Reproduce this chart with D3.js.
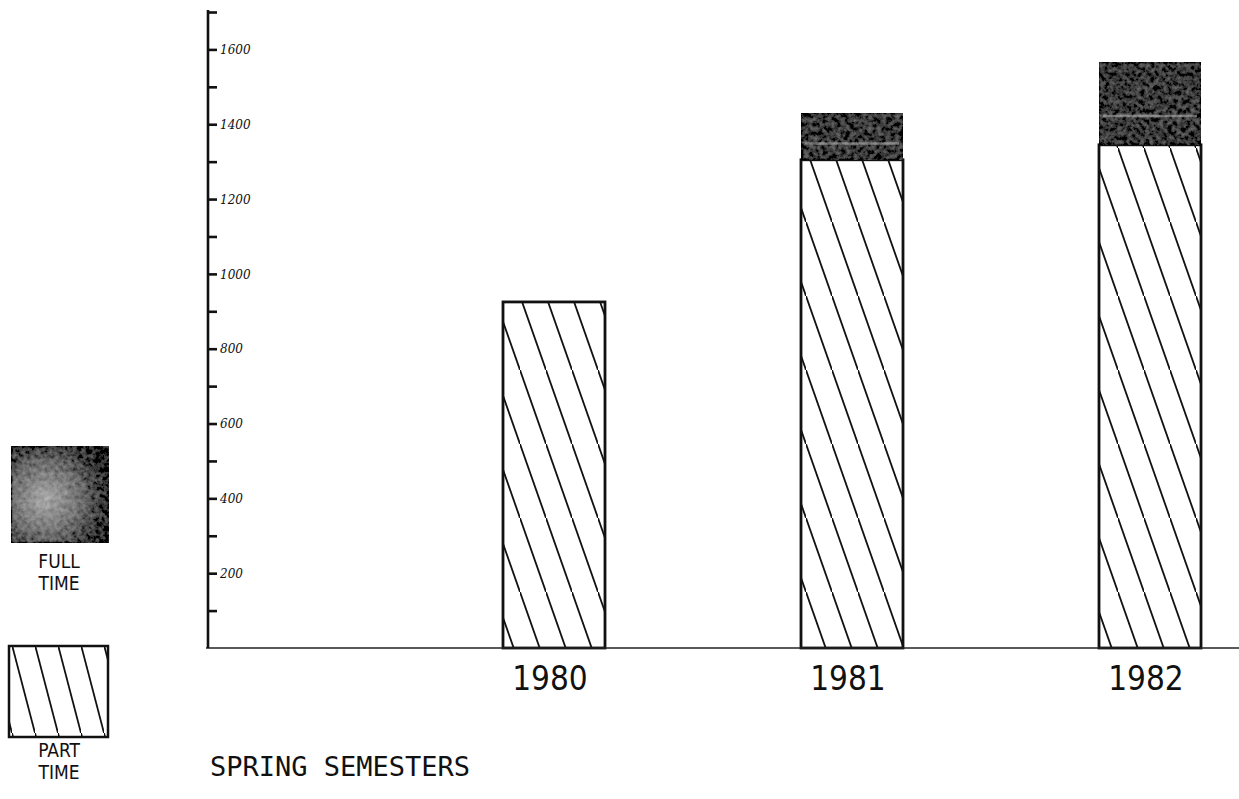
<!DOCTYPE html>
<html>
<head>
<meta charset="utf-8">
<script src="https://cdn.jsdelivr.net/npm/d3@7"></script>
<style>
  body { margin: 0; background: #fff; }
  svg { display: block; }
  .tick text { font-family: "DejaVu Serif", serif; font-style: italic; font-size: 12px; fill: #111; }
</style>
</head>
<body>
<div id="chart"></div>
<script>
'use strict';

// data
var years = ["1980", "1981", "1982"];
var partTime = [925, 1305, 1345];
var fullTime = [0, 125, 220];
var tickValues = [100, 200, 300, 400, 500, 600, 700, 800, 900, 1000, 1100, 1200, 1300, 1400, 1500, 1600, 1700];

var width = 1239, height = 799;

var svg = d3.select("#chart").append("svg")
    .attr("width", width)
    .attr("height", height);

var defs = svg.append("defs");

// hatch pattern for part time
var hw = 26, hh = 74;
var hatch = defs.append("pattern")
    .attr("id", "hatch")
    .attr("patternUnits", "userSpaceOnUse")
    .attr("width", hw)
    .attr("height", hh);
hatch.append("path")
    .attr("d", "M" + (-hw) + "," + (-hh) + "L" + (2 * hw) + "," + (2 * hh))
    .attr("stroke", "#111")
    .attr("stroke-width", 1.8)
    .attr("fill", "none");

var hatchLeg = defs.append("pattern")
    .attr("id", "hatchLeg")
    .attr("patternUnits", "userSpaceOnUse")
    .attr("x", 12)
    .attr("y", 645)
    .attr("width", 23)
    .attr("height", 88);
hatchLeg.append("path")
    .attr("d", "M-23,-88L46,176")
    .attr("stroke", "#111")
    .attr("stroke-width", 1.8)
    .attr("fill", "none");

// grainy dark fill for full time
var grain = defs.append("filter")
    .attr("id", "grain")
    .attr("x", 0).attr("y", 0).attr("width", 1).attr("height", 1);
grain.append("feTurbulence")
    .attr("type", "fractalNoise")
    .attr("baseFrequency", 0.22)
    .attr("numOctaves", 3)
    .attr("seed", 7)
    .attr("result", "noise");
grain.append("feColorMatrix")
    .attr("in", "noise")
    .attr("type", "matrix")
    .attr("values", "1 0 0 0 0  1 0 0 0 0  1 0 0 0 0  0 0 0 0 1")
    .attr("result", "gray");
grain.append("feComposite")
    .attr("in", "SourceGraphic")
    .attr("in2", "gray")
    .attr("operator", "arithmetic")
    .attr("k1", 0).attr("k2", 1).attr("k3", 0.28).attr("k4", -0.14)
    .attr("result", "mix");
grain.append("feComposite")
    .attr("in", "mix")
    .attr("in2", "SourceGraphic")
    .attr("operator", "in");

var rg = defs.append("radialGradient")
    .attr("id", "legGrad")
    .attr("cx", "35%").attr("cy", "55%").attr("r", "70%");
rg.append("stop").attr("offset", "0%").attr("stop-color", "#aaaaaa");
rg.append("stop").attr("offset", "55%").attr("stop-color", "#6a6a6a");
rg.append("stop").attr("offset", "100%").attr("stop-color", "#1e1e1e");

// scales
var x = d3.scalePoint().domain(years).range([554, 1150]);
var barW = 102;
var y = d3.scaleLinear().domain([0, 1700]).range([648, 12]);

var data = years.map(function(d, i) {
    return { year: d, part: partTime[i], full: fullTime[i] };
});
var stack = d3.stack().keys(["part", "full"]);
var series = stack(data);

// part time bars
svg.append("g").selectAll("rect")
    .data(series[0])
    .enter().append("rect")
    .attr("x", function(d) { return x(d.data.year) - barW / 2; })
    .attr("y", function(d) { return y(d[1]); })
    .attr("width", barW)
    .attr("height", function(d) { return y(d[0]) - y(d[1]); })
    .attr("fill", "url(#hatch)")
    .attr("stroke", "#111")
    .attr("stroke-width", 2.8);

// full time bars
svg.append("g").selectAll("rect")
    .data(series[1].filter(function(d) { return d[1] > d[0]; }))
    .enter().append("rect")
    .attr("x", function(d) { return x(d.data.year) - barW / 2; })
    .attr("y", function(d) { return y(d[1]); })
    .attr("width", barW)
    .attr("height", function(d) { return y(d[0]) - y(d[1]); })
    .attr("fill", "#3a3a3a")
    .attr("stroke", "#1a1a1a")
    .attr("stroke-width", 2.5)
    .attr("filter", "url(#grain)");

// lighter streak inside the full time blocks
svg.append("g").selectAll("line")
    .data(series[1].filter(function(d) { return d[1] > d[0]; }))
    .enter().append("line")
    .attr("x1", function(d) { return x(d.data.year) - barW / 2 + 4; })
    .attr("x2", function(d) { return x(d.data.year) + barW / 2 - 4; })
    .attr("y1", function(d) { return y(d[0] + (d[1] - d[0]) * 0.35); })
    .attr("y2", function(d) { return y(d[0] + (d[1] - d[0]) * 0.35); })
    .attr("stroke", "#bbb")
    .attr("stroke-opacity", 0.55)
    .attr("stroke-width", 2.5);

// baseline
svg.append("line")
    .attr("x1", 206).attr("x2", width)
    .attr("y1", y(0)).attr("y2", y(0))
    .attr("stroke", "#222")
    .attr("stroke-width", 1.6);

// y axis, ticks pointing right
var yAxis = d3.axisRight(y)
    .tickValues(tickValues)
    .tickSize(9)
    .tickSizeOuter(0)
    .tickFormat(function(d) { return (d % 200 === 0) ? d : ""; });

var ga = svg.append("g")
    .attr("transform", "translate(208,0)")
    .call(yAxis);
ga.select(".domain").remove();
ga.selectAll(".tick line").attr("stroke", "#111").attr("stroke-width", 2.6);
ga.selectAll(".tick text").attr("x", 12).attr("dy", "0.35em");

svg.append("line")
    .attr("x1", 208).attr("x2", 208)
    .attr("y1", y(1700) - 2).attr("y2", y(0))
    .attr("stroke", "#111")
    .attr("stroke-width", 2.6);

// year labels
svg.append("g").selectAll("text")
    .data(years)
    .enter().append("text")
    .attr("x", function(d) { return x(d) - 4; })
    .attr("y", 690)
    .attr("text-anchor", "middle")
    .style("font-family", "'Liberation Sans Narrow', 'DejaVu Sans Condensed', sans-serif")
    .style("font-size", "33px")
    .style("fill", "#111")
    .text(function(d) { return d; });

// x title
svg.append("text")
    .attr("x", 210)
    .attr("y", 776)
    .style("font-family", "'DejaVu Sans Mono', monospace")
    .style("font-size", "27px")
    .style("fill", "#111")
    .text("SPRING SEMESTERS");

// legend
svg.append("rect")
    .attr("x", 11).attr("y", 446)
    .attr("width", 98).attr("height", 97)
    .attr("fill", "url(#legGrad)")
    .attr("stroke", "#1e1e1e")
    .attr("stroke-width", 2.5)
    .attr("filter", "url(#grain)");

svg.append("rect")
    .attr("x", 9).attr("y", 646)
    .attr("width", 99).attr("height", 91)
    .attr("fill", "url(#hatchLeg)")
    .attr("stroke", "#111")
    .attr("stroke-width", 2.5);

var legText = [["FULL", 568], ["TIME", 590], ["PART", 757], ["TIME", 779]];
svg.append("g").selectAll("text")
    .data(legText)
    .enter().append("text")
    .attr("x", 59)
    .attr("y", function(d) { return d[1]; })
    .attr("text-anchor", "middle")
    .style("font-family", "'Liberation Sans Narrow', 'DejaVu Sans Condensed', sans-serif")
    .style("font-size", "19px")
    .style("fill", "#111")
    .text(function(d) { return d[0]; });
</script>
</body>
</html>
